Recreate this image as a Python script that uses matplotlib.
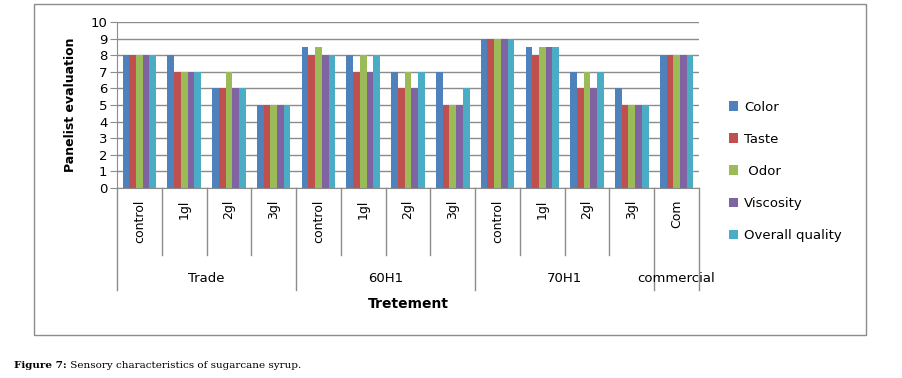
import matplotlib.pyplot as plt
import matplotlib.transforms as mtransforms
from matplotlib.patches import Rectangle
import numpy as np

# data
categories = ['control', '1gl', '2gl', '3gl',
              'control', '1gl', '2gl', '3gl',
              'control', '1gl', '2gl', '3gl',
              'Com']
groups = ['Trade', '60H1', '70H1', 'commercial']
group_sizes = [4, 4, 4, 1]

color_vals = [8, 8, 6, 5, 8.5, 8, 7, 7, 9, 8.5, 7, 6, 8]
taste_vals = [8, 7, 6, 5, 8, 7, 6, 5, 9, 8, 6, 5, 8]
odor_vals = [8, 7, 7, 5, 8.5, 8, 7, 5, 9, 8.5, 7, 5, 8]
viscosity_vals = [8, 7, 6, 5, 8, 7, 6, 5, 9, 8.5, 6, 5, 8]
overall_vals = [8, 7, 6, 5, 8, 8, 7, 6, 9, 8.5, 7, 5, 8]

series_names = ['Color', 'Taste', ' Odor', 'Viscosity', 'Overall quality']
series_vals = [color_vals, taste_vals, odor_vals, viscosity_vals, overall_vals]
series_colors = ['#4F81BD', '#C0504D', '#9BBB59', '#8064A2', '#4BACC6']

W, H = 902, 378
fig = plt.figure(figsize=(W / 100, H / 100), dpi=100)
plt.rcParams['font.family'] = 'DejaVu Sans'

# outer chart frame
fig.patches.append(Rectangle((34 / W, 1 - 335 / H), (866 - 34) / W, (335 - 4) / H,
                             transform=fig.transFigure, fill=False,
                             edgecolor='#8c8c8c', linewidth=1))

x0, x1, ytop, ybot = 117, 699, 22, 188
ax = fig.add_axes([x0 / W, 1 - ybot / H, (x1 - x0) / W, (ybot - ytop) / H])

x = np.arange(len(categories))
bw = 0.15
for i, (name, vals, c) in enumerate(zip(series_names, series_vals, series_colors)):
    ax.bar(x + (i - 2) * bw, vals, width=bw, color=c, label=name, zorder=3)

ax.set_xlim(-0.5, len(categories) - 0.5)
ax.set_ylim(0, 10)
ax.set_yticks(range(0, 11))
ax.yaxis.grid(True, color='#8c8c8c', linewidth=1)
ax.set_axisbelow(True)
ax.tick_params(axis='y', length=5, color='#8c8c8c', labelsize=9.5, pad=2)
ax.tick_params(axis='x', length=0, labelbottom=False)
for s in ['top', 'right']:
    ax.spines[s].set_visible(False)
for s in ['left', 'bottom']:
    ax.spines[s].set_color('#8c8c8c')
ax.set_ylabel('Panelist evaluation', fontsize=9, fontweight='bold', labelpad=10)

# category labels and separators below the axis
trans = mtransforms.blended_transform_factory(ax.transData, ax.transAxes)
ph = ybot - ytop
for i, cat in enumerate(categories):
    ax.text(i, -12 / ph, cat, rotation=90, ha='center', va='top',
            fontsize=9, transform=trans)

bounds = [-0.5]
for n in group_sizes:
    bounds.append(bounds[-1] + n)
for b in np.arange(-0.5, len(categories)):
    deep = b in bounds
    ax.plot([b, b], [0, -(290 - ybot) / ph if deep else -(255 - ybot) / ph],
            color='#8c8c8c', linewidth=1, transform=trans, clip_on=False)

for g, a, b in zip(groups, bounds[:-1], bounds[1:]):
    ax.text((a + b) / 2, -(278 - ybot) / ph, g, ha='center', va='center',
            fontsize=9.5, transform=trans)

ax.text(0.5, -(304 - ybot) / ph, 'Tretement', ha='center', va='center',
        fontsize=10, fontweight='bold', transform=ax.transAxes)

fig.legend(loc='upper left', bbox_to_anchor=(722 / W, 1 - 94 / H),
           frameon=False, fontsize=9.5, handlelength=0.75, handleheight=0.75,
           handletextpad=0.4, labelspacing=1.45, borderpad=0)

# caption
cap = fig.text(14 / W, 1 - 365 / H, 'Figure 7:', fontsize=7.5, fontweight='bold',
               family='DejaVu Serif', va='center')
ax.annotate(' Sensory characteristics of sugarcane syrup.', xy=(1, 0.5),
            xycoords=cap, va='center', ha='left', fontsize=7.5,
            family='DejaVu Serif', annotation_clip=False)

fig.savefig('out.png', dpi=100)
